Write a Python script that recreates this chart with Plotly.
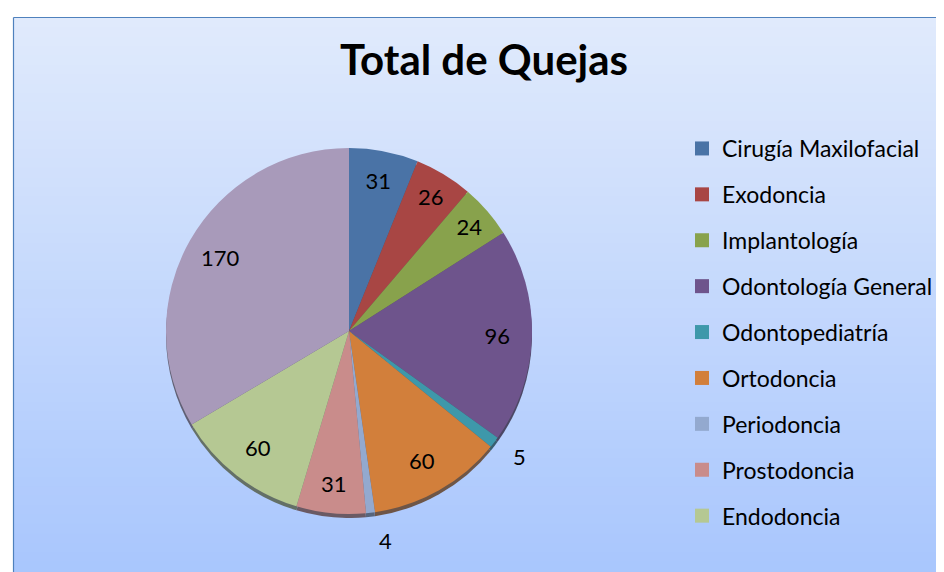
import plotly.graph_objects as go

# data
labels = ['Cirugía Maxilofacial', 'Exodoncia', 'Implantología', 'Odontología General',
          'Odontopediatría', 'Ortodoncia', 'Periodoncia', 'Prostodoncia', 'Endodoncia', 'Otros']
values = [31, 26, 24, 96, 5, 60, 4, 31, 60, 170]
colors = ['#4a73a6', '#a84644', '#88a24c', '#6e548c', '#3e98aa',
          '#d27f3b', '#93a9cf', '#c98c8b', '#b5c893', '#a89aba']
legend_labels = labels[:9]  # last entry is cut off in the original legend
small = [4, 6]  # slices whose value is written outside

W, H = 944, 572
FONT = 'Lato'


def darker(hex_col, f=0.45):
    r, g, b = (int(hex_col[i:i + 2], 16) for i in (1, 3, 5))
    return 'rgb(%d,%d,%d)' % (r * f, g * f, b * f)


def dom(dy=0, grow=1.0):
    cx, cy, hw, hh = 341, 323 + dy, 186 * grow, 183 * grow
    return dict(x=[(cx - hw) / W, (cx + hw) / W], y=[1 - (cy + hh) / H, 1 - (cy - hh) / H])


inner_pos = ['none' if i in small else 'inside' for i in range(len(values))]
outer_text = [str(v) if i in small else '' for i, v in enumerate(values)]
outer_pos = ['outside' if i in small else 'none' for i in range(len(values))]
clear = ['rgba(0,0,0,0)'] * len(values)

fig = go.Figure()

# thin dark rim under the pie (3d look)
fig.add_trace(go.Pie(
    labels=labels, values=values, sort=False, direction='clockwise', rotation=0,
    marker=dict(colors=[darker(c) for c in colors], line=dict(width=0)),
    textinfo='none', showlegend=False, hoverinfo='skip', opacity=0.8,
    domain=dom(4),
))
# coloured slices
fig.add_trace(go.Pie(
    labels=labels, values=values, sort=False, direction='clockwise', rotation=0,
    marker=dict(colors=colors, line=dict(width=0)),
    textinfo='none', showlegend=False, hoverinfo='label+value',
    domain=dom(),
))
# value labels sit in an outer ring, like the original
fig.add_trace(go.Pie(
    labels=labels, values=values, sort=False, direction='clockwise', rotation=0,
    hole=0.62,
    marker=dict(colors=clear, line=dict(width=0)),
    textinfo='value', textposition=inner_pos,
    insidetextorientation='horizontal',
    textfont=dict(family=FONT, size=22, color='#000000'),
    showlegend=False, hoverinfo='skip',
    domain=dom(),
))
# labels of the thin slices, a bit away from the rim
fig.add_trace(go.Pie(
    labels=labels, values=values, sort=False, direction='clockwise', rotation=0,
    marker=dict(colors=clear, line=dict(width=0)),
    text=outer_text, textinfo='text', textposition=outer_pos,
    textfont=dict(family=FONT, size=22, color='#000000'),
    showlegend=False, hoverinfo='skip',
    domain=dom(0, 1.082),
))

# legend entries (square markers)
for i, lab in enumerate(legend_labels):
    fig.add_trace(go.Scatter(
        x=[None], y=[None], mode='markers', name=lab,
        legendgroup=f'g{i}',
        marker=dict(symbol='square', size=14, color=colors[i]),
    ))

# gradient background
shapes = [dict(type='rect', xref='paper', yref='paper', x0=0, x1=1, y0=0, y1=1,
               fillcolor='white', line=dict(width=0), layer='below')]
top = (224, 234, 252)
bot = (168, 198, 253)
n = 60
y_top = 1 - 10 / H
for k in range(n):
    t = k / (n - 1)
    c = tuple(int(round(top[j] + (bot[j] - top[j]) * t)) for j in range(3))
    y1 = y_top - y_top * k / n
    y0 = y_top - y_top * (k + 1) / n
    shapes.append(dict(type='rect', xref='paper', yref='paper',
                       x0=6 / W, x1=1.01, y0=y0 - 0.002, y1=y1,
                       fillcolor='rgb(%d,%d,%d)' % c, line=dict(width=0), layer='below'))
# border
shapes.append(dict(type='line', xref='paper', yref='paper', x0=5.5 / W, x1=1.01,
                   y0=1 - 9.5 / H, y1=1 - 9.5 / H, line=dict(color='#4f81bd', width=1.2)))
shapes.append(dict(type='line', xref='paper', yref='paper', x0=5.5 / W, x1=5.5 / W,
                   y0=-0.01, y1=1 - 9.5 / H, line=dict(color='#4f81bd', width=1.2)))

fig.update_layout(
    width=W, height=H,
    margin=dict(l=0, r=0, t=0, b=0),
    paper_bgcolor='white',
    plot_bgcolor='rgba(0,0,0,0)',
    shapes=shapes,
    title=dict(text='<b>Total de Quejas</b>', x=476 / W, xanchor='center',
               y=1 - 52 / H, yanchor='middle',
               font=dict(family=FONT, size=42, color='#000000')),
    xaxis=dict(visible=False),
    yaxis=dict(visible=False),
    legend=dict(x=674 / W, y=1 - 119 / H, xanchor='left', yanchor='top',
                font=dict(family=FONT, size=23, color='#000000'),
                bgcolor='rgba(0,0,0,0)', traceorder='grouped', tracegroupgap=13,
                itemwidth=30),
)

fig.write_html('out.html')
